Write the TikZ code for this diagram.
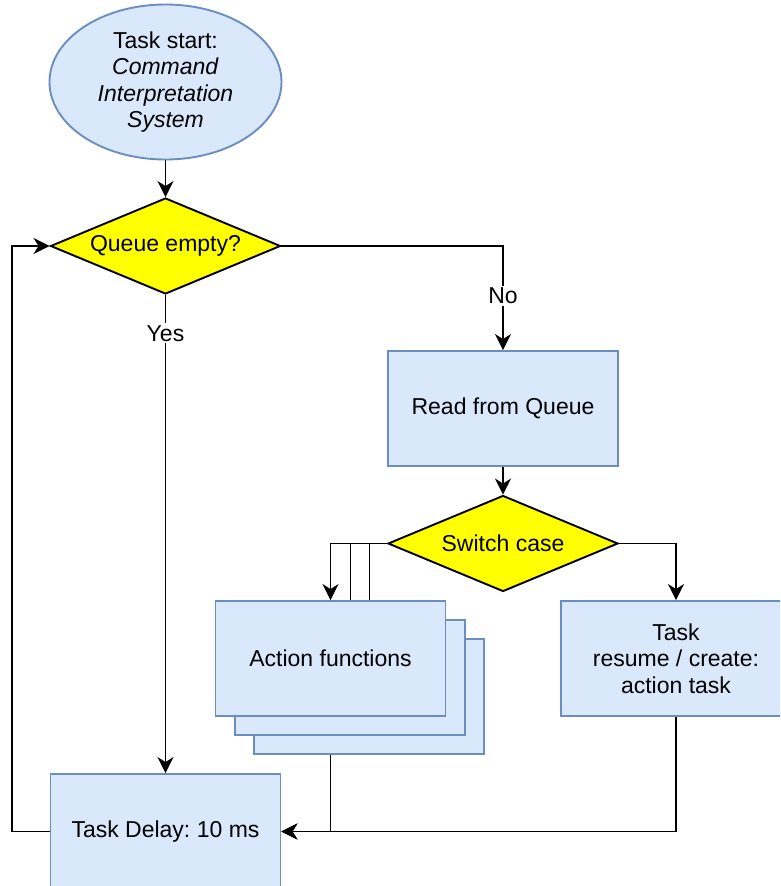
\documentclass[tikz,border=0pt]{standalone}
\usepackage{fontspec}
\setmainfont{Liberation Sans}
\usetikzlibrary{shapes.geometric,arrows.meta}
\pgfdeclarelayer{background}
\pgfsetlayers{background,main}

\definecolor{boxfill}{HTML}{DAE8FC}
\definecolor{boxline}{HTML}{6C8EBF}
\definecolor{decfill}{HTML}{FFFF00}

\begin{document}
\frenchspacing
\begin{tikzpicture}[x=1pt,y=-1pt,
  font=\fontsize{23}{26.5}\selectfont,
  line width=1.9pt,
  process/.style={rectangle, draw=boxline, fill=boxfill, minimum width=230pt,
    minimum height=115pt, inner sep=0pt, align=center},
  decision/.style={diamond, draw=black, fill=decfill, aspect=2.396,
    minimum width=230pt, minimum height=96pt, inner sep=0pt, align=center},
  startnode/.style={ellipse, draw=boxline, fill=boxfill, minimum width=232pt,
    minimum height=155pt, inner sep=0pt, align=center},
  flow/.style={draw=black, -{Stealth[length=16pt,width=16pt,inset=5pt]}},
  lbl/.style={fill=white, inner sep=2pt}
]
\clip (0,0) rectangle (780,886);

% nodes
\node[startnode] (start) at (165.5,82)
  {Task start:\\\textit{Command}\\\textit{Interpretation}\\\textit{System}};
\node[decision] (queue) at (165.5,246) {\raisebox{-2pt}{Queue empty?}};
\node[process] (read) at (503,408.5) {Read from Queue};
\node[decision] (switch) at (503,543.5) {\raisebox{-2pt}{Switch case}};
\node[process] (act3) at (369,696.5) {};
\node[process] (act2) at (350,677.5) {};
\node[process] (act1) at (330.5,658.5) {Action functions};
\node[process] (task) at (676,658.5) {Task\\resume / create:\\action task};
\node[process] (delay) at (165.5,831.5) {Task Delay: 10 ms};
\coordinate (loop) at (12,831.5);

% connectors
\draw[flow] (start) -- (queue);
\draw[flow] (queue.east) -| node[lbl, pos=0.74] {No} (read.north);
\draw[flow] (queue.south) -- node[lbl, pos=0.08] {Yes} (delay.north);
\draw[flow] (read.south) -- (switch.north);
\draw[flow] (switch.west) -| (act1.north);
\draw[flow] (switch.east) -| (task.north);
\draw[flow] (task.south) |- (delay.east);
\draw[flow] (delay.west) -- (loop) |- (queue.west);

% connectors hidden behind the stacked boxes
\begin{pgfonlayer}{background}
  \draw[flow] (switch.west) -| (act2.north);
  \draw[flow] (switch.west) -| (act3.north);
  \draw[flow] (act1.south) |- (delay.east);
\end{pgfonlayer}
\end{tikzpicture}
\end{document}
